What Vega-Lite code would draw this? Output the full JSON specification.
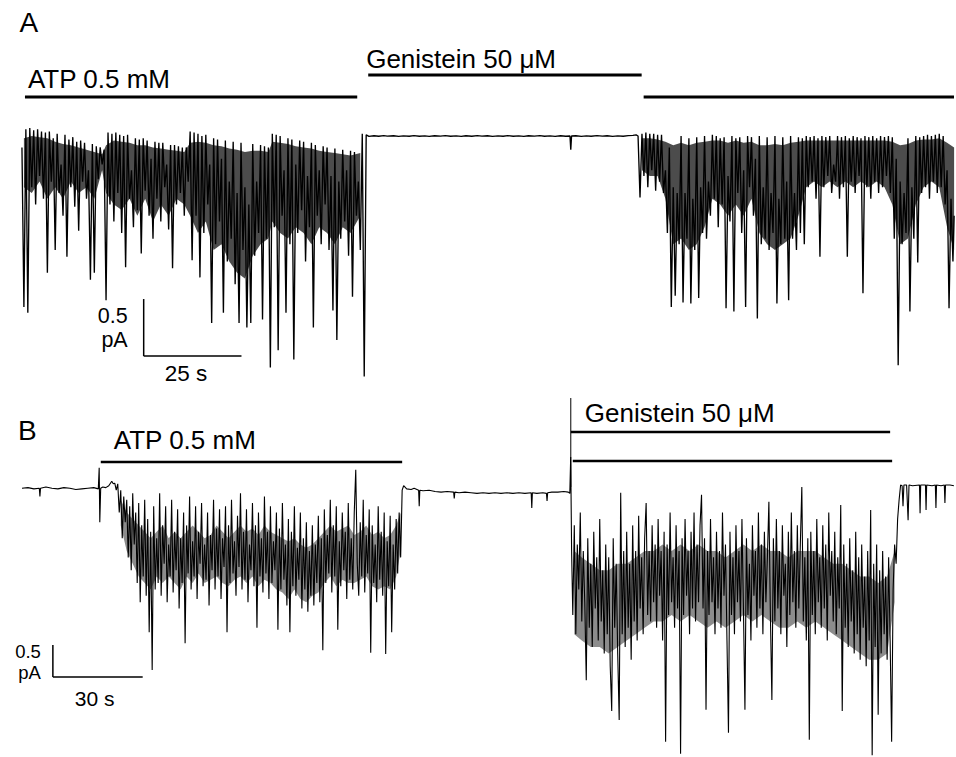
{
  "$schema": "https://vega.github.io/schema/vega-lite/v6.json",
  "width": 956,
  "height": 757,
  "autosize": {"type": "fit", "contains": "padding"},
  "padding": 0,
  "background": "white",
  "config": {"view": {"stroke": null}, "text": {"font": "Liberation Sans", "color": "black"}},
  "datasets": {
    "traceA": [
      {"t":0.0,"i":-0.10},{"t":0.5,"i":-1.50},{"t":1.0,"i":0.06},{"t":1.5,"i":-1.55},{"t":2.0,"i":0.07},{"t":2.5,"i":-0.45},{"t":3.0,"i":0.05},{"t":3.5,"i":-0.60},{"t":4.0,"i":0.06},{"t":4.5,"i":-0.35},
      {"t":5.0,"i":0.04},{"t":5.5,"i":-0.55},{"t":6.0,"i":0.03},{"t":6.5,"i":-1.20},{"t":7.0,"i":0.04},{"t":7.5,"i":-0.40},{"t":8.0,"i":-0.02},{"t":8.5,"i":-1.00},{"t":9.0,"i":0.02},{"t":9.5,"i":-0.50},
      {"t":10.0,"i":-0.25},{"t":10.5,"i":-0.70},{"t":11.0,"i":0.01},{"t":11.5,"i":-1.06},{"t":12.0,"i":-0.03},{"t":12.5,"i":-0.45},{"t":13.0,"i":-0.01},{"t":13.5,"i":-0.62},{"t":14.0,"i":-0.05},{"t":14.5,"i":-0.83},
      {"t":15.0,"i":-0.04},{"t":15.5,"i":-0.40},{"t":16.0,"i":-0.06},{"t":16.5,"i":-0.55},{"t":17.0,"i":-0.30},{"t":17.5,"i":-1.26},{"t":18.0,"i":-0.07},{"t":18.5,"i":-1.20},{"t":19.0,"i":-0.09},{"t":19.5,"i":-0.38},
      {"t":20.0,"i":-0.10},{"t":20.5,"i":-0.25},{"t":21.0,"i":-0.12},{"t":21.5,"i":-1.44},
      {"t":22.0,"i":0.03},{"t":22.5,"i":-0.60},{"t":23.0,"i":0.02},{"t":23.5,"i":-0.75},{"t":24.0,"i":0.03},{"t":24.5,"i":-0.50},{"t":25.0,"i":0.01},{"t":25.5,"i":-0.85},{"t":26.0,"i":0.00},{"t":26.5,"i":-1.15},
      {"t":27.0,"i":0.01},{"t":27.5,"i":-0.55},{"t":28.0,"i":-0.30},{"t":28.5,"i":-0.80},{"t":29.0,"i":-0.02},{"t":29.5,"i":-0.65},{"t":30.0,"i":-0.03},{"t":30.5,"i":-1.03},{"t":31.0,"i":-0.02},{"t":31.5,"i":-0.48},
      {"t":32.0,"i":-0.04},{"t":32.5,"i":-0.70},{"t":33.0,"i":-0.20},{"t":33.5,"i":-0.90},{"t":34.0,"i":-0.05},{"t":34.5,"i":-0.55},{"t":35.0,"i":-0.06},{"t":35.5,"i":-0.75},{"t":36.0,"i":-0.06},{"t":36.5,"i":-0.45},
      {"t":37.0,"i":-0.25},{"t":37.5,"i":-0.82},{"t":38.0,"i":-0.08},{"t":38.5,"i":-1.16},{"t":39.0,"i":-0.08},{"t":39.5,"i":-0.60},{"t":40.0,"i":-0.09},{"t":40.5,"i":-0.50},{"t":41.0,"i":-0.10},{"t":41.5,"i":-0.70},
      {"t":42.0,"i":-0.10},{"t":42.5,"i":-0.40},
      {"t":43.0,"i":0.04},{"t":43.5,"i":-1.09},{"t":44.0,"i":0.03},{"t":44.5,"i":-0.70},{"t":45.0,"i":0.02},{"t":45.5,"i":-1.24},{"t":46.0,"i":0.00},{"t":46.5,"i":-0.85},{"t":47.0,"i":0.01},{"t":47.5,"i":-0.60},
      {"t":48.0,"i":-0.25},{"t":48.5,"i":-1.64},{"t":49.0,"i":-0.02},{"t":49.5,"i":-0.95},{"t":50.0,"i":-0.03},{"t":50.5,"i":-0.75},{"t":51.0,"i":-0.20},{"t":51.5,"i":-1.55},{"t":52.0,"i":-0.04},{"t":52.5,"i":-1.10},
      {"t":53.0,"i":-0.40},{"t":53.5,"i":-0.90},{"t":54.0,"i":-0.05},{"t":54.5,"i":-1.30},{"t":55.0,"i":-0.50},{"t":55.5,"i":-1.64},{"t":56.0,"i":-0.06},{"t":56.5,"i":-1.00},{"t":57.0,"i":-0.45},{"t":57.5,"i":-1.68},
      {"t":58.0,"i":-0.60},{"t":58.5,"i":-1.64},{"t":59.0,"i":-0.07},{"t":59.5,"i":-1.05},{"t":60.0,"i":-0.40},{"t":60.5,"i":-0.85},{"t":61.0,"i":-0.08},{"t":61.5,"i":-1.61},{"t":62.0,"i":-0.09},{"t":62.5,"i":-0.90},
      {"t":63.0,"i":-0.10},{"t":63.5,"i":-2.03},
      {"t":64.0,"i":0.02},{"t":64.5,"i":-0.80},{"t":65.0,"i":0.01},{"t":65.5,"i":-1.88},{"t":66.0,"i":0.00},{"t":66.5,"i":-0.70},{"t":67.0,"i":-0.30},{"t":67.5,"i":-1.55},{"t":68.0,"i":-0.02},{"t":68.5,"i":-0.95},
      {"t":69.0,"i":-0.03},{"t":69.5,"i":-1.96},{"t":70.0,"i":-0.25},{"t":70.5,"i":-0.85},{"t":71.0,"i":-0.04},{"t":71.5,"i":-0.65},{"t":72.0,"i":-0.05},{"t":72.5,"i":-1.10},{"t":73.0,"i":-0.35},{"t":73.5,"i":-0.80},
      {"t":74.0,"i":-0.06},{"t":74.5,"i":-1.68},{"t":75.0,"i":-0.08},{"t":75.5,"i":-0.70},{"t":76.0,"i":-0.30},{"t":76.5,"i":-0.95},{"t":77.0,"i":-0.09},{"t":77.5,"i":-0.60},{"t":78.0,"i":-0.10},{"t":78.5,"i":-1.00},
      {"t":79.0,"i":-0.35},{"t":79.5,"i":-1.53},{"t":80.0,"i":-0.11},{"t":80.5,"i":-1.79},{"t":81.0,"i":-0.40},{"t":81.5,"i":-0.90},{"t":82.0,"i":-0.12},{"t":82.5,"i":-0.75},{"t":83.0,"i":-0.30},{"t":83.5,"i":-1.05},
      {"t":84.0,"i":-0.13},{"t":84.5,"i":-1.41},{"t":85.0,"i":-0.14},{"t":85.5,"i":-0.70},{"t":86.0,"i":-0.40},{"t":86.5,"i":-1.00},{"t":87.0,"i":0.02},{"t":87.5,"i":-2.11},{"t":88.0,"i":0.01},
      {"t":88.7,"i":-0.003},{"t":90,"i":0.002},{"t":91.2,"i":-0.002},{"t":92.5,"i":0.003},{"t":93.4,"i":-0.001},{"t":95,"i":0.002},{"t":96.3,"i":-0.003},{"t":97.5,"i":0.001},{"t":99,"i":-0.002},{"t":100.2,"i":0.003},
      {"t":101.6,"i":-0.002},{"t":103,"i":0.001},{"t":104.1,"i":-0.003},{"t":105.5,"i":0.002},{"t":107,"i":-0.001},{"t":108.2,"i":0.003},{"t":109.6,"i":-0.002},{"t":111,"i":0.001},{"t":112.3,"i":-0.003},{"t":113.5,"i":0.002},
      {"t":115,"i":-0.002},{"t":116.4,"i":0.003},{"t":117.6,"i":-0.001},{"t":119,"i":0.002},{"t":120.3,"i":-0.003},{"t":121.7,"i":0.001},{"t":123,"i":-0.002},{"t":124.2,"i":0.003},{"t":125.6,"i":-0.002},{"t":127,"i":0.001},
      {"t":128.3,"i":-0.003},{"t":129.5,"i":0.002},{"t":131,"i":-0.001},{"t":132.4,"i":0.003},{"t":133.6,"i":-0.002},{"t":135,"i":0.001},{"t":136.3,"i":-0.003},{"t":137.7,"i":0.002},{"t":139,"i":-0.002},{"t":140.1,"i":0.0},
      {"t":140.3,"i":-0.12},{"t":140.5,"i":0.0},{"t":141.6,"i":0.002},{"t":143,"i":-0.003},{"t":144.3,"i":0.001},{"t":145.5,"i":-0.002},{"t":147,"i":0.003},{"t":148.4,"i":-0.001},{"t":149.6,"i":0.002},{"t":151,"i":-0.003},
      {"t":152.3,"i":0.001},{"t":153.7,"i":-0.002},{"t":155,"i":0.003},{"t":156.2,"i":0.005},{"t":157,"i":0.01},
      {"t":157.5,"i":0.0},{"t":158.0,"i":-0.54},{"t":158.5,"i":0.02},{"t":159.0,"i":-0.35},{"t":159.5,"i":0.03},{"t":160.0,"i":-0.45},{"t":160.5,"i":0.02},{"t":161.0,"i":-0.30},{"t":161.5,"i":0.02},{"t":162.0,"i":-0.48},
      {"t":162.5,"i":0.01},{"t":163.0,"i":-0.40},{"t":163.5,"i":0.01},{"t":164.0,"i":-0.50},{"t":164.5,"i":-0.30},{"t":165.0,"i":-0.85},{"t":165.5,"i":-0.10},{"t":166.0,"i":-1.50},{"t":166.5,"i":-0.45},{"t":167.0,"i":-1.40},
      {"t":167.5,"i":-0.50},{"t":168.0,"i":-0.95},{"t":168.5,"i":0.00},{"t":169.0,"i":-1.46},{"t":169.5,"i":-0.50},{"t":170.0,"i":-0.90},{"t":170.5,"i":-0.02},{"t":171.0,"i":-1.47},{"t":171.5,"i":-0.55},{"t":172.0,"i":-1.00},
      {"t":172.5,"i":-0.01},{"t":173.0,"i":-1.42},{"t":173.5,"i":-0.45},{"t":174.0,"i":-0.85},{"t":174.5,"i":0.00},{"t":175.0,"i":-0.90},{"t":175.5,"i":-0.40},{"t":176.0,"i":-0.70},{"t":176.5,"i":0.01},{"t":177.0,"i":-0.55},
      {"t":177.5,"i":0.00},{"t":178.0,"i":-0.80},{"t":178.5,"i":-0.02},{"t":179.0,"i":-0.60},{"t":179.5,"i":-0.01},{"t":180.0,"i":-1.51},{"t":180.5,"i":-0.35},{"t":181.0,"i":-0.75},{"t":181.5,"i":0.00},{"t":182.0,"i":-1.54},
      {"t":182.5,"i":-0.02},{"t":183.0,"i":-0.50},{"t":183.5,"i":-0.01},{"t":184.0,"i":-0.85},{"t":184.5,"i":-0.30},{"t":185.0,"i":-1.50},{"t":185.5,"i":0.00},{"t":186.0,"i":-0.45},{"t":186.5,"i":-0.01},{"t":187.0,"i":-0.70},
      {"t":187.5,"i":-0.20},{"t":188.0,"i":-1.60},{"t":188.5,"i":0.00},{"t":189.0,"i":-0.95},{"t":189.5,"i":-0.45},{"t":190.0,"i":-0.90},{"t":190.5,"i":-0.01},{"t":191.0,"i":-1.00},{"t":191.5,"i":-0.50},{"t":192.0,"i":-0.85},
      {"t":192.5,"i":0.00},{"t":193.0,"i":-1.47},{"t":193.5,"i":-0.55},{"t":194.0,"i":-0.95},{"t":194.5,"i":-0.01},{"t":195.0,"i":-0.90},{"t":195.5,"i":-0.40},{"t":196.0,"i":-1.44},{"t":196.5,"i":0.00},{"t":197.0,"i":-0.90},
      {"t":197.5,"i":-0.50},{"t":198.0,"i":-1.00},{"t":198.5,"i":-0.01},{"t":199.0,"i":-0.85},{"t":199.5,"i":-0.02},{"t":200.0,"i":-0.95},{"t":200.5,"i":0.00},{"t":201.0,"i":-0.45},{"t":201.5,"i":-0.01},{"t":202.0,"i":-0.40},
      {"t":202.5,"i":0.00},{"t":203.0,"i":-0.55},{"t":203.5,"i":-0.02},{"t":204.0,"i":-1.06},{"t":204.5,"i":0.00},{"t":205.0,"i":-0.45},{"t":205.5,"i":-0.01},{"t":206.0,"i":-0.35},{"t":206.5,"i":0.00},{"t":207.0,"i":-0.50},
      {"t":207.5,"i":-0.25},{"t":208.0,"i":-0.40},{"t":208.5,"i":0.00},{"t":209.0,"i":-0.55},{"t":209.5,"i":-0.01},{"t":210.0,"i":-0.45},{"t":210.5,"i":0.00},{"t":211.0,"i":-1.06},{"t":211.5,"i":-0.02},{"t":212.0,"i":-0.40},
      {"t":212.5,"i":0.00},{"t":213.0,"i":-0.50},{"t":213.5,"i":-0.01},{"t":214.0,"i":-0.35},{"t":214.5,"i":-0.02},{"t":215.0,"i":-1.38},{"t":215.5,"i":0.00},{"t":216.0,"i":-0.45},{"t":216.5,"i":-0.01},{"t":217.0,"i":-0.55},
      {"t":217.5,"i":0.00},{"t":218.0,"i":-0.40},{"t":218.5,"i":-0.02},{"t":219.0,"i":-0.50},{"t":219.5,"i":0.00},{"t":220.0,"i":-0.45},{"t":220.5,"i":-0.01},{"t":221.0,"i":-0.35},{"t":221.5,"i":0.00},{"t":222.0,"i":-0.50},
      {"t":222.5,"i":-0.01},{"t":223.0,"i":-0.90},{"t":223.5,"i":-0.20},{"t":224.0,"i":-2.01},{"t":224.5,"i":-0.40},{"t":225.0,"i":-0.95},{"t":225.5,"i":-0.50},{"t":226.0,"i":-0.85},{"t":226.5,"i":-0.02},{"t":227.0,"i":-1.54},
      {"t":227.5,"i":-0.45},{"t":228.0,"i":-0.90},{"t":228.5,"i":0.00},{"t":229.0,"i":-1.11},{"t":229.5,"i":-0.01},{"t":230.0,"i":-0.50},{"t":230.5,"i":0.00},{"t":231.0,"i":-0.45},{"t":231.5,"i":0.01},{"t":232.0,"i":-0.55},
      {"t":232.5,"i":0.00},{"t":233.0,"i":-0.40},{"t":233.5,"i":0.01},{"t":234.0,"i":-0.50},{"t":234.5,"i":0.02},{"t":235.0,"i":-0.45},{"t":235.5,"i":0.00},{"t":236.0,"i":-0.60},{"t":236.5,"i":-0.30},{"t":237.0,"i":-1.51},
      {"t":237.5,"i":-0.55},{"t":238.0,"i":-1.10},{"t":238.3,"i":-0.70}
    ],
    "bandA": [
      {"seg":"atp","t":0.5,"i":-0.02,"i2":-0.45},{"seg":"atp","t":2.5,"i":0.0,"i2":-0.50},{"seg":"atp","t":4.5,"i":-0.01,"i2":-0.40},{"seg":"atp","t":6.5,"i":-0.02,"i2":-0.55},{"seg":"atp","t":8.5,"i":-0.05,"i2":-0.45},
      {"seg":"atp","t":10.5,"i":-0.07,"i2":-0.55},{"seg":"atp","t":12.5,"i":-0.08,"i2":-0.40},{"seg":"atp","t":14.5,"i":-0.10,"i2":-0.50},{"seg":"atp","t":16.5,"i":-0.12,"i2":-0.45},{"seg":"atp","t":18.5,"i":-0.14,"i2":-0.55},
      {"seg":"atp","t":20.5,"i":-0.16,"i2":-0.30},{"seg":"atp","t":21.5,"i":-0.08,"i2":-0.50},{"seg":"atp","t":23.5,"i":-0.04,"i2":-0.60},{"seg":"atp","t":25.5,"i":-0.05,"i2":-0.65},{"seg":"atp","t":27.5,"i":-0.06,"i2":-0.55},
      {"seg":"atp","t":29.5,"i":-0.08,"i2":-0.70},{"seg":"atp","t":31.5,"i":-0.08,"i2":-0.55},{"seg":"atp","t":33.5,"i":-0.10,"i2":-0.75},{"seg":"atp","t":35.5,"i":-0.11,"i2":-0.60},{"seg":"atp","t":37.5,"i":-0.12,"i2":-0.70},
      {"seg":"atp","t":39.5,"i":-0.13,"i2":-0.55},{"seg":"atp","t":41.5,"i":-0.14,"i2":-0.60},{"seg":"atp","t":43.0,"i":-0.06,"i2":-0.70},{"seg":"atp","t":45.0,"i":-0.05,"i2":-0.85},{"seg":"atp","t":47.0,"i":-0.06,"i2":-0.75},
      {"seg":"atp","t":49.0,"i":-0.08,"i2":-1.00},{"seg":"atp","t":51.0,"i":-0.09,"i2":-0.95},{"seg":"atp","t":53.0,"i":-0.11,"i2":-1.10},{"seg":"atp","t":55.0,"i":-0.12,"i2":-1.20},{"seg":"atp","t":57.0,"i":-0.14,"i2":-1.25},
      {"seg":"atp","t":59.0,"i":-0.13,"i2":-1.05},{"seg":"atp","t":61.0,"i":-0.13,"i2":-0.95},{"seg":"atp","t":63.0,"i":-0.14,"i2":-0.90},{"seg":"atp","t":64.0,"i":-0.05,"i2":-0.75},{"seg":"atp","t":66.0,"i":-0.06,"i2":-0.85},
      {"seg":"atp","t":68.0,"i":-0.07,"i2":-0.90},{"seg":"atp","t":70.0,"i":-0.09,"i2":-0.80},{"seg":"atp","t":72.0,"i":-0.10,"i2":-0.85},{"seg":"atp","t":74.0,"i":-0.11,"i2":-0.95},{"seg":"atp","t":76.0,"i":-0.13,"i2":-0.80},
      {"seg":"atp","t":78.0,"i":-0.14,"i2":-0.85},{"seg":"atp","t":80.0,"i":-0.15,"i2":-0.95},{"seg":"atp","t":82.0,"i":-0.16,"i2":-0.80},{"seg":"atp","t":84.0,"i":-0.17,"i2":-0.85},{"seg":"atp","t":86.5,"i":-0.15,"i2":-0.70},
      {"seg":"rec","t":158.5,"i":-0.02,"i2":-0.30},{"seg":"rec","t":160.5,"i":-0.02,"i2":-0.35},{"seg":"rec","t":162.5,"i":-0.03,"i2":-0.35},{"seg":"rec","t":164.5,"i":-0.05,"i2":-0.55},{"seg":"rec","t":166.5,"i":-0.08,"i2":-0.95},
      {"seg":"rec","t":168.5,"i":-0.06,"i2":-0.90},{"seg":"rec","t":170.5,"i":-0.08,"i2":-1.00},{"seg":"rec","t":172.5,"i":-0.06,"i2":-0.95},{"seg":"rec","t":174.5,"i":-0.05,"i2":-0.80},{"seg":"rec","t":176.5,"i":-0.04,"i2":-0.55},
      {"seg":"rec","t":178.5,"i":-0.04,"i2":-0.60},{"seg":"rec","t":180.5,"i":-0.06,"i2":-0.70},{"seg":"rec","t":182.5,"i":-0.04,"i2":-0.60},{"seg":"rec","t":184.5,"i":-0.06,"i2":-0.70},{"seg":"rec","t":186.5,"i":-0.05,"i2":-0.55},
      {"seg":"rec","t":188.5,"i":-0.08,"i2":-0.85},{"seg":"rec","t":190.5,"i":-0.08,"i2":-0.95},{"seg":"rec","t":192.5,"i":-0.07,"i2":-1.00},{"seg":"rec","t":194.5,"i":-0.08,"i2":-0.95},{"seg":"rec","t":196.5,"i":-0.06,"i2":-0.90},
      {"seg":"rec","t":198.5,"i":-0.05,"i2":-0.70},{"seg":"rec","t":200.5,"i":-0.04,"i2":-0.45},{"seg":"rec","t":202.5,"i":-0.04,"i2":-0.40},{"seg":"rec","t":204.5,"i":-0.04,"i2":-0.45},{"seg":"rec","t":206.5,"i":-0.04,"i2":-0.40},
      {"seg":"rec","t":208.5,"i":-0.04,"i2":-0.45},{"seg":"rec","t":210.5,"i":-0.04,"i2":-0.40},{"seg":"rec","t":212.5,"i":-0.04,"i2":-0.45},{"seg":"rec","t":214.5,"i":-0.04,"i2":-0.40},{"seg":"rec","t":216.5,"i":-0.04,"i2":-0.45},
      {"seg":"rec","t":218.5,"i":-0.04,"i2":-0.40},{"seg":"rec","t":220.5,"i":-0.04,"i2":-0.45},{"seg":"rec","t":222.5,"i":-0.05,"i2":-0.60},{"seg":"rec","t":224.5,"i":-0.08,"i2":-0.95},{"seg":"rec","t":226.5,"i":-0.07,"i2":-0.90},
      {"seg":"rec","t":228.5,"i":-0.04,"i2":-0.60},{"seg":"rec","t":230.5,"i":-0.03,"i2":-0.45},{"seg":"rec","t":232.5,"i":-0.03,"i2":-0.40},{"seg":"rec","t":234.5,"i":-0.02,"i2":-0.45},{"seg":"rec","t":236.5,"i":-0.06,"i2":-0.80},
      {"seg":"rec","t":238.3,"i":-0.10,"i2":-1.00}
    ],
    "traceB": [
      {"t":0.0,"i":-0.02},{"t":2,"i":-0.01},{"t":4,"i":-0.03},{"t":5.8,"i":-0.02},{"t":6.0,"i":-0.15},{"t":6.2,"i":-0.02},{"t":8,"i":0.0},{"t":10,"i":-0.02},{"t":12,"i":-0.03},{"t":14,"i":-0.01},
      {"t":16,"i":-0.02},{"t":18,"i":-0.04},{"t":20,"i":-0.03},{"t":22,"i":-0.02},{"t":24,"i":-0.01},{"t":25.5,"i":-0.03},{"t":25.8,"i":0.30},{"t":26.0,"i":-0.55},{"t":26.3,"i":-0.02},{"t":27,"i":0.0},
      {"t":28,"i":-0.01},{"t":29,"i":0.02},{"t":30,"i":0.09},{"t":30.5,"i":0.05},{"t":31.0,"i":0.06},{"t":31.5,"i":-0.05},
      {"t":32.0,"i":0.05},{"t":32.5,"i":-0.40},{"t":33.0,"i":-0.05},{"t":33.5,"i":-0.80},{"t":34.0,"i":-0.15},{"t":34.5,"i":-0.55},{"t":35.0,"i":-0.20},{"t":35.5,"i":-1.10},{"t":36.0,"i":-0.30},{"t":36.5,"i":-1.30},
      {"t":37.0,"i":-0.10},{"t":37.5,"i":-0.90},{"t":38.0,"i":-0.40},{"t":38.5,"i":-1.50},{"t":39.0,"i":-0.25},{"t":39.5,"i":-1.80},{"t":40.0,"i":-0.60},{"t":40.5,"i":-1.40},{"t":41.0,"i":-0.20},{"t":41.5,"i":-1.70},
      {"t":42.0,"i":-0.50},{"t":42.5,"i":-2.27},{"t":43.0,"i":-0.70},{"t":43.5,"i":-2.86},{"t":44.0,"i":-0.30},{"t":44.5,"i":-1.60},{"t":45.0,"i":-0.80},{"t":45.5,"i":-1.50},{"t":46.0,"i":-0.10},{"t":46.5,"i":-1.70},
      {"t":47.0,"i":-0.60},{"t":47.5,"i":-1.20},{"t":48.0,"i":-0.30},{"t":48.5,"i":-1.80},{"t":49.0,"i":-0.90},{"t":49.5,"i":-1.40},{"t":50.0,"i":-0.20},{"t":50.5,"i":-1.65},{"t":51.0,"i":-0.70},{"t":51.5,"i":-1.30},
      {"t":52.0,"i":-0.35},{"t":52.5,"i":-1.90},{"t":53.0,"i":-0.80},{"t":53.5,"i":-1.50},{"t":54.0,"i":-0.40},{"t":54.5,"i":-2.44},{"t":55.0,"i":-0.60},{"t":55.5,"i":-1.35},{"t":56.0,"i":-0.15},{"t":56.5,"i":-1.60},
      {"t":57.0,"i":-0.85},{"t":57.5,"i":-1.40},{"t":58.0,"i":-0.30},{"t":58.5,"i":-1.75},{"t":59.0,"i":-0.70},{"t":59.5,"i":-1.20},{"t":60.0,"i":-0.25},{"t":60.5,"i":-1.55},{"t":61.0,"i":-0.90},{"t":61.5,"i":-1.45},
      {"t":62.0,"i":-0.40},{"t":62.5,"i":-1.85},{"t":63.0,"i":-0.75},{"t":63.5,"i":-1.30},{"t":64.0,"i":-0.20},{"t":64.5,"i":-1.60},{"t":65.0,"i":-0.65},{"t":65.5,"i":-1.40},{"t":66.0,"i":-0.35},{"t":66.5,"i":-1.75},
      {"t":67.0,"i":-0.80},{"t":67.5,"i":-1.25},{"t":68.0,"i":-0.30},{"t":68.5,"i":-2.27},{"t":69.0,"i":-0.60},{"t":69.5,"i":-1.50},{"t":70.0,"i":-0.20},{"t":70.5,"i":-1.35},{"t":71.0,"i":-0.85},{"t":71.5,"i":-1.70},
      {"t":72.0,"i":-0.45},{"t":72.5,"i":-1.25},{"t":73.0,"i":-0.10},{"t":73.5,"i":-1.60},{"t":74.0,"i":-0.70},{"t":74.5,"i":-1.45},{"t":75.0,"i":-0.35},{"t":75.5,"i":-1.80},{"t":76.0,"i":-0.90},{"t":76.5,"i":-1.30},
      {"t":77.0,"i":-0.25},{"t":77.5,"i":-1.55},{"t":78.0,"i":-0.60},{"t":78.5,"i":-2.20},{"t":79.0,"i":-0.40},{"t":79.5,"i":-1.40},{"t":80.0,"i":-0.80},{"t":80.5,"i":-1.65},{"t":81.0,"i":-0.15},{"t":81.5,"i":-1.35},
      {"t":82.0,"i":-0.70},{"t":82.5,"i":-1.75},{"t":83.0,"i":-0.30},{"t":83.5,"i":-1.50},{"t":84.0,"i":-0.85},{"t":84.5,"i":-1.30},{"t":85.0,"i":-0.40},{"t":85.5,"i":-2.23},{"t":86.0,"i":-0.65},{"t":86.5,"i":-1.60},
      {"t":87.0,"i":-0.25},{"t":87.5,"i":-1.45},{"t":88.0,"i":-0.90},{"t":88.5,"i":-1.85},{"t":89.0,"i":-0.50},{"t":89.5,"i":-2.27},{"t":90.0,"i":-0.70},{"t":90.5,"i":-1.55},{"t":91.0,"i":-0.30},{"t":91.5,"i":-1.70},
      {"t":92.0,"i":-0.95},{"t":92.5,"i":-1.45},{"t":93.0,"i":-0.40},{"t":93.5,"i":-1.90},{"t":94.0,"i":-0.80},{"t":94.5,"i":-1.60},{"t":95.0,"i":-0.55},{"t":95.5,"i":-1.95},{"t":96.0,"i":-1.00},{"t":96.5,"i":-1.70},
      {"t":97.0,"i":-0.60},{"t":97.5,"i":-1.85},{"t":98.0,"i":-0.90},{"t":98.5,"i":-1.50},{"t":99.0,"i":-0.45},{"t":99.5,"i":-1.80},{"t":100.0,"i":-0.80},{"t":100.5,"i":-2.55},{"t":101.0,"i":-0.35},{"t":101.5,"i":-1.50},
      {"t":102.0,"i":-0.75},{"t":102.5,"i":-1.35},{"t":103.0,"i":-0.20},{"t":103.5,"i":-1.65},{"t":104.0,"i":-0.60},{"t":104.5,"i":-1.40},{"t":105.0,"i":-0.30},{"t":105.5,"i":-2.23},{"t":106.0,"i":-0.85},{"t":106.5,"i":-1.55},
      {"t":107.0,"i":-0.40},{"t":107.5,"i":-1.30},{"t":108.0,"i":-0.70},{"t":108.5,"i":-1.75},{"t":109.0,"i":-0.25},{"t":109.5,"i":-1.45},{"t":110.0,"i":-0.80},{"t":110.5,"i":-1.60},{"t":111.0,"i":-0.40},{"t":111.5,"i":0.27},
      {"t":112.0,"i":-1.20},{"t":112.5,"i":-1.70},{"t":113.0,"i":-0.55},{"t":113.5,"i":-1.40},{"t":114.0,"i":-0.20},{"t":114.5,"i":-1.65},{"t":115.0,"i":-0.75},{"t":115.5,"i":-1.35},{"t":116.0,"i":-0.35},{"t":116.5,"i":-2.59},
      {"t":117.0,"i":-0.60},{"t":117.5,"i":-1.50},{"t":118.0,"i":-0.90},{"t":118.5,"i":-1.80},{"t":119.0,"i":-0.30},{"t":119.5,"i":-1.45},{"t":120.0,"i":-0.70},{"t":120.5,"i":-1.70},{"t":121.0,"i":-0.40},{"t":121.5,"i":-2.61},
      {"t":122.0,"i":-0.85},{"t":122.5,"i":-1.55},{"t":123.0,"i":-0.45},{"t":123.5,"i":-2.27},{"t":124.0,"i":-0.90},{"t":124.5,"i":-1.60},{"t":125.0,"i":-0.50},{"t":125.5,"i":-1.35},{"t":126.0,"i":-0.40},{"t":126.5,"i":-1.10},
      {"t":127.0,"i":-0.05},{"t":127.5,"i":0.02},
      {"t":128.5,"i":-0.03},{"t":130,"i":-0.04},{"t":131,"i":-0.02},{"t":132.5,"i":-0.05},{"t":132.7,"i":-0.30},{"t":132.9,"i":-0.05},{"t":134,"i":-0.06},{"t":136,"i":-0.05},{"t":138,"i":-0.07},{"t":140,"i":-0.08},
      {"t":142,"i":-0.07},{"t":144.2,"i":-0.08},{"t":144.4,"i":-0.18},{"t":144.6,"i":-0.08},{"t":146,"i":-0.09},{"t":148,"i":-0.08},{"t":150,"i":-0.09},{"t":152,"i":-0.10},{"t":154,"i":-0.09},{"t":156,"i":-0.10},
      {"t":158,"i":-0.09},{"t":160,"i":-0.10},{"t":162,"i":-0.09},{"t":164,"i":-0.10},{"t":166,"i":-0.09},{"t":168,"i":-0.10},{"t":170.1,"i":-0.09},{"t":170.3,"i":-0.33},{"t":170.5,"i":-0.09},{"t":172,"i":-0.10},
      {"t":174,"i":-0.09},{"t":175.2,"i":-0.10},{"t":175.4,"i":-0.22},{"t":175.6,"i":-0.09},{"t":177,"i":-0.08},{"t":179,"i":-0.08},{"t":181,"i":-0.07},{"t":182.5,"i":-0.08},{"t":183.0,"i":-0.10},{"t":183.3,"i":0.47},
      {"t":183.6,"i":-1.00},
      {"t":184.0,"i":-2.00},{"t":184.5,"i":-0.60},{"t":185.0,"i":-2.30},{"t":185.5,"i":-0.90},{"t":186.0,"i":-1.60},{"t":186.5,"i":-0.40},{"t":187.0,"i":-2.10},{"t":187.5,"i":-1.00},{"t":188.0,"i":-1.80},{"t":188.5,"i":-3.02},
      {"t":189.0,"i":-0.80},{"t":189.5,"i":-2.20},{"t":190.0,"i":-1.20},{"t":190.5,"i":-2.50},{"t":191.0,"i":-0.70},{"t":191.5,"i":-1.90},{"t":192.0,"i":-1.10},{"t":192.5,"i":-2.40},{"t":193.0,"i":-0.50},{"t":193.5,"i":-2.10},
      {"t":194.0,"i":-1.30},{"t":194.5,"i":-2.60},{"t":195.0,"i":-0.90},{"t":195.5,"i":-2.30},{"t":196.0,"i":-1.10},{"t":196.5,"i":-2.80},{"t":197.0,"i":-3.50},{"t":197.5,"i":-0.80},{"t":198.0,"i":-2.20},{"t":198.5,"i":-1.20},
      {"t":199.0,"i":-2.60},{"t":199.5,"i":-3.64},{"t":200.0,"i":-0.09},{"t":200.5,"i":-2.30},{"t":201.0,"i":-1.00},{"t":201.5,"i":-2.50},{"t":202.0,"i":-0.70},{"t":202.5,"i":-2.20},{"t":203.0,"i":-1.20},{"t":203.5,"i":-2.70},
      {"t":204.0,"i":-0.60},{"t":204.5,"i":-2.10},{"t":205.0,"i":-1.00},{"t":205.5,"i":-2.40},{"t":206.0,"i":-0.45},{"t":206.5,"i":-1.90},{"t":207.0,"i":-1.10},{"t":207.5,"i":-2.30},{"t":208.0,"i":-0.80},{"t":208.5,"i":-0.25},
      {"t":209.0,"i":-2.00},{"t":209.5,"i":-1.00},{"t":210.0,"i":-2.10},{"t":210.5,"i":-0.60},{"t":211.0,"i":-1.80},{"t":211.5,"i":-0.90},{"t":212.0,"i":-2.20},{"t":212.5,"i":-0.50},{"t":213.0,"i":-1.70},{"t":213.5,"i":-1.00},
      {"t":214.0,"i":-2.40},{"t":214.5,"i":-0.70},{"t":215.0,"i":-3.98},{"t":215.5,"i":-0.90},{"t":216.0,"i":-2.00},{"t":216.5,"i":-0.40},{"t":217.0,"i":-1.80},{"t":217.5,"i":-1.10},{"t":218.0,"i":-2.20},{"t":218.5,"i":-0.60},
      {"t":219.0,"i":-1.90},{"t":219.5,"i":-1.00},{"t":220.0,"i":-4.17},{"t":220.5,"i":-0.80},{"t":221.0,"i":-2.00},{"t":221.5,"i":-0.50},{"t":222.0,"i":-1.70},{"t":222.5,"i":-1.00},{"t":223.0,"i":-2.30},{"t":223.5,"i":-0.70},
      {"t":224.0,"i":-1.90},{"t":224.5,"i":-0.40},{"t":225.0,"i":-2.10},{"t":225.5,"i":-0.90},{"t":226.0,"i":-1.80},{"t":226.5,"i":-0.60},{"t":227.0,"i":-0.12},{"t":227.5,"i":-1.90},{"t":228.0,"i":-0.80},{"t":228.5,"i":-3.48},
      {"t":229.0,"i":-1.00},{"t":229.5,"i":-2.00},{"t":230.0,"i":-0.50},{"t":230.5,"i":-1.80},{"t":231.0,"i":-1.10},{"t":231.5,"i":-2.30},{"t":232.0,"i":-0.70},{"t":232.5,"i":-1.90},{"t":233.0,"i":-1.00},{"t":233.5,"i":-2.20},
      {"t":234.0,"i":-0.40},{"t":234.5,"i":-1.70},{"t":235.0,"i":-0.90},{"t":235.5,"i":-2.40},{"t":236.0,"i":-3.84},{"t":236.5,"i":-0.70},{"t":237.0,"i":-2.00},{"t":237.5,"i":-1.10},{"t":238.0,"i":-2.30},{"t":238.5,"i":-0.60},
      {"t":239.0,"i":-1.80},{"t":239.5,"i":-1.00},{"t":240.0,"i":-2.10},{"t":240.5,"i":-0.50},{"t":241.0,"i":-1.90},{"t":241.5,"i":-3.48},{"t":242.0,"i":-0.80},{"t":242.5,"i":-2.00},{"t":243.0,"i":-1.20},{"t":243.5,"i":-2.40},
      {"t":244.0,"i":-0.60},{"t":244.5,"i":-1.70},{"t":245.0,"i":-1.00},{"t":245.5,"i":-2.20},{"t":246.0,"i":-0.40},{"t":246.5,"i":-1.90},{"t":247.0,"i":-0.90},{"t":247.5,"i":-2.30},{"t":248.0,"i":-0.70},{"t":248.5,"i":-1.80},
      {"t":249.0,"i":-1.10},{"t":249.5,"i":-0.23},{"t":250.0,"i":-2.00},{"t":250.5,"i":-3.33},{"t":251.0,"i":-0.80},{"t":251.5,"i":-2.10},{"t":252.0,"i":-0.50},{"t":252.5,"i":-1.90},{"t":253.0,"i":-1.00},{"t":253.5,"i":-2.30},
      {"t":254.0,"i":-0.60},{"t":254.5,"i":-1.70},{"t":255.0,"i":-1.20},{"t":255.5,"i":-2.50},{"t":256.0,"i":-0.70},{"t":256.5,"i":-2.00},{"t":257.0,"i":-0.40},{"t":257.5,"i":-1.80},{"t":258.0,"i":-1.00},{"t":258.5,"i":-2.20},
      {"t":259.0,"i":-0.60},{"t":259.5,"i":-1.90},{"t":260.0,"i":-0.90},{"t":260.5,"i":0.00},{"t":261.0,"i":-2.10},{"t":261.5,"i":-1.10},{"t":262.0,"i":-2.40},{"t":262.5,"i":-0.80},{"t":263.0,"i":-3.95},{"t":263.5,"i":-0.70},
      {"t":264.0,"i":-2.00},{"t":264.5,"i":-1.00},{"t":265.0,"i":-2.30},{"t":265.5,"i":-0.50},{"t":266.0,"i":-1.80},{"t":266.5,"i":-1.10},{"t":267.0,"i":-2.20},{"t":267.5,"i":-0.60},{"t":268.0,"i":-1.90},{"t":268.5,"i":-0.90},
      {"t":269.0,"i":-2.40},{"t":269.5,"i":-0.40},{"t":270.0,"i":-1.70},{"t":270.5,"i":-1.00},{"t":271.0,"i":-2.10},{"t":271.5,"i":-0.70},{"t":272.0,"i":-2.30},{"t":272.5,"i":-1.10},{"t":273.0,"i":-1.90},{"t":273.5,"i":-0.28},
      {"t":274.0,"i":-3.50},{"t":274.5,"i":-0.90},{"t":275.0,"i":-2.20},{"t":275.5,"i":-1.20},{"t":276.0,"i":-2.50},{"t":276.5,"i":-0.80},{"t":277.0,"i":-2.10},{"t":277.5,"i":-1.30},{"t":278.0,"i":-2.60},{"t":278.5,"i":-0.70},
      {"t":279.0,"i":-2.30},{"t":279.5,"i":-1.10},{"t":280.0,"i":-2.70},{"t":280.5,"i":-0.90},{"t":281.0,"i":-2.20},{"t":281.5,"i":-1.40},{"t":282.0,"i":-2.80},{"t":282.5,"i":-1.00},{"t":283.0,"i":-2.40},{"t":283.5,"i":-0.36},
      {"t":284.0,"i":-4.19},{"t":284.5,"i":-1.20},{"t":285.0,"i":-2.50},{"t":285.5,"i":-0.90},{"t":286.0,"i":-3.56},{"t":286.5,"i":-1.30},{"t":287.0,"i":-2.60},{"t":287.5,"i":-1.00},{"t":288.0,"i":-2.30},{"t":288.5,"i":-1.40},
      {"t":289.0,"i":-2.70},{"t":289.5,"i":-1.10},{"t":290.0,"i":-2.40},{"t":290.5,"i":-3.98},{"t":291.0,"i":-1.60},{"t":291.5,"i":-0.90},{"t":292.0,"i":-1.20},{"t":292.5,"i":-0.50},{"t":293.0,"i":-0.20},{"t":293.5,"i":0.03},
      {"t":294.0,"i":0.02},{"t":294.3,"i":-0.30},{"t":294.6,"i":0.03},
      {"t":295.5,"i":0.03},{"t":296.0,"i":-0.52},{"t":296.3,"i":0.03},{"t":297.5,"i":0.02},{"t":299.8,"i":0.03},{"t":300.0,"i":-0.41},{"t":300.2,"i":0.03},{"t":301.8,"i":0.03},{"t":302.0,"i":-0.36},{"t":302.2,"i":0.03},
      {"t":304,"i":0.02},{"t":305.1,"i":0.03},{"t":305.3,"i":-0.33},{"t":305.5,"i":0.03},{"t":307,"i":0.02},{"t":308.1,"i":0.03},{"t":308.3,"i":-0.25},{"t":308.5,"i":0.03},{"t":310,"i":0.03},{"t":311.3,"i":0.02}
    ],
    "bandB": [
      {"seg":"atp","t":33,"i":-0.2,"i2":-0.6},{"seg":"atp","t":35,"i":-0.4,"i2":-1.0},{"seg":"atp","t":37,"i":-0.5,"i2":-1.2},{"seg":"atp","t":39,"i":-0.6,"i2":-1.4},{"seg":"atp","t":41,"i":-0.7,"i2":-1.5},
      {"seg":"atp","t":43,"i":-0.8,"i2":-1.6},{"seg":"atp","t":45,"i":-0.7,"i2":-1.4},{"seg":"atp","t":47,"i":-0.6,"i2":-1.5},{"seg":"atp","t":49,"i":-0.8,"i2":-1.4},{"seg":"atp","t":51,"i":-0.7,"i2":-1.5},
      {"seg":"atp","t":53,"i":-0.8,"i2":-1.6},{"seg":"atp","t":55,"i":-0.7,"i2":-1.4},{"seg":"atp","t":57,"i":-0.6,"i2":-1.5},{"seg":"atp","t":59,"i":-0.7,"i2":-1.35},{"seg":"atp","t":61,"i":-0.8,"i2":-1.5},
      {"seg":"atp","t":63,"i":-0.75,"i2":-1.45},{"seg":"atp","t":65,"i":-0.6,"i2":-1.4},{"seg":"atp","t":67,"i":-0.7,"i2":-1.5},{"seg":"atp","t":69,"i":-0.8,"i2":-1.55},{"seg":"atp","t":71,"i":-0.7,"i2":-1.45},
      {"seg":"atp","t":73,"i":-0.6,"i2":-1.4},{"seg":"atp","t":75,"i":-0.7,"i2":-1.5},{"seg":"atp","t":77,"i":-0.65,"i2":-1.4},{"seg":"atp","t":79,"i":-0.75,"i2":-1.55},{"seg":"atp","t":81,"i":-0.6,"i2":-1.45},
      {"seg":"atp","t":83,"i":-0.7,"i2":-1.5},{"seg":"atp","t":85,"i":-0.75,"i2":-1.6},{"seg":"atp","t":87,"i":-0.8,"i2":-1.65},{"seg":"atp","t":89,"i":-0.85,"i2":-1.75},{"seg":"atp","t":91,"i":-0.8,"i2":-1.6},
      {"seg":"atp","t":93,"i":-0.9,"i2":-1.75},{"seg":"atp","t":95,"i":-0.95,"i2":-1.8},{"seg":"atp","t":97,"i":-0.9,"i2":-1.7},{"seg":"atp","t":99,"i":-0.8,"i2":-1.65},{"seg":"atp","t":101,"i":-0.7,"i2":-1.5},
      {"seg":"atp","t":103,"i":-0.6,"i2":-1.4},{"seg":"atp","t":105,"i":-0.7,"i2":-1.55},{"seg":"atp","t":107,"i":-0.65,"i2":-1.45},{"seg":"atp","t":109,"i":-0.6,"i2":-1.5},{"seg":"atp","t":111,"i":-0.75,"i2":-1.5},
      {"seg":"atp","t":113,"i":-0.7,"i2":-1.45},{"seg":"atp","t":115,"i":-0.6,"i2":-1.4},{"seg":"atp","t":117,"i":-0.75,"i2":-1.55},{"seg":"atp","t":119,"i":-0.7,"i2":-1.6},{"seg":"atp","t":121,"i":-0.8,"i2":-1.55},
      {"seg":"atp","t":123,"i":-0.75,"i2":-1.6},{"seg":"atp","t":125,"i":-0.6,"i2":-1.4},{"seg":"atp","t":126.5,"i":-0.4,"i2":-1.0},
      {"seg":"gen","t":184.5,"i":-1.0,"i2":-2.3},{"seg":"gen","t":187,"i":-1.1,"i2":-2.4},{"seg":"gen","t":190,"i":-1.2,"i2":-2.5},{"seg":"gen","t":193,"i":-1.3,"i2":-2.5},{"seg":"gen","t":196,"i":-1.3,"i2":-2.6},
      {"seg":"gen","t":199,"i":-1.2,"i2":-2.5},{"seg":"gen","t":202,"i":-1.2,"i2":-2.4},{"seg":"gen","t":205,"i":-1.1,"i2":-2.3},{"seg":"gen","t":208,"i":-1.0,"i2":-2.2},{"seg":"gen","t":211,"i":-1.0,"i2":-2.1},
      {"seg":"gen","t":214,"i":-0.9,"i2":-2.1},{"seg":"gen","t":217,"i":-1.0,"i2":-2.0},{"seg":"gen","t":220,"i":-0.9,"i2":-2.1},{"seg":"gen","t":223,"i":-1.0,"i2":-2.0},{"seg":"gen","t":226,"i":-0.9,"i2":-2.1},
      {"seg":"gen","t":229,"i":-1.0,"i2":-2.2},{"seg":"gen","t":232,"i":-1.0,"i2":-2.1},{"seg":"gen","t":235,"i":-1.1,"i2":-2.2},{"seg":"gen","t":238,"i":-1.0,"i2":-2.1},{"seg":"gen","t":241,"i":-0.9,"i2":-2.0},
      {"seg":"gen","t":244,"i":-1.0,"i2":-2.1},{"seg":"gen","t":247,"i":-0.9,"i2":-2.0},{"seg":"gen","t":250,"i":-1.0,"i2":-2.1},{"seg":"gen","t":253,"i":-1.0,"i2":-2.2},{"seg":"gen","t":256,"i":-1.1,"i2":-2.2},
      {"seg":"gen","t":259,"i":-1.0,"i2":-2.1},{"seg":"gen","t":262,"i":-1.0,"i2":-2.2},{"seg":"gen","t":265,"i":-1.0,"i2":-2.1},{"seg":"gen","t":268,"i":-1.1,"i2":-2.2},{"seg":"gen","t":271,"i":-1.2,"i2":-2.3},
      {"seg":"gen","t":274,"i":-1.2,"i2":-2.4},{"seg":"gen","t":277,"i":-1.3,"i2":-2.5},{"seg":"gen","t":280,"i":-1.4,"i2":-2.6},{"seg":"gen","t":283,"i":-1.4,"i2":-2.7},{"seg":"gen","t":286,"i":-1.5,"i2":-2.7},
      {"seg":"gen","t":289,"i":-1.4,"i2":-2.6},{"seg":"gen","t":291.5,"i":-1.0,"i2":-1.8}
    ],
    "barsA": [
      {"t":0.77,"t2":85.71,"i":0.342},
      {"t":88.52,"t2":158.42,"i":0.535},
      {"t":158.93,"t2":238.27,"i":0.342}
    ],
    "scaleAh": [{"t":31.12,"t2":56.12,"i":-1.93}],
    "scaleAv": [{"t":31.12,"i":-1.43,"i2":-1.93}],
    "labelsA": [
      {"t":1.53,"i":0.421,"label":"ATP 0.5 mM"},
      {"t":88.0,"i":0.596,"label":"Genistein 50 μM"}
    ],
    "letterA": [{"t":-0.6,"i":0.912,"label":"A"}],
    "scaleLabA": [
      {"t":27.04,"i":-1.64,"label":"0.5"},
      {"t":27.04,"i":-1.851,"label":"pA"}
    ],
    "timeLabA": [{"t":36.48,"i":-2.149,"label":"25 s"}],
    "barsB": [
      {"t":26.33,"t2":127.0,"i":0.391},
      {"t":183.33,"t2":290.0,"i":0.859},
      {"t":184.0,"t2":290.67,"i":0.406}
    ],
    "bracketB": [{"t":183.33,"i":1.39,"i2":0.0}],
    "scaleBh": [{"t":10.33,"t2":40.33,"i":-2.969}],
    "scaleBv": [{"t":10.33,"i":-2.469,"i2":-2.969}],
    "labelsB": [
      {"t":30.67,"i":0.594,"label":"ATP 0.5 mM"},
      {"t":188.0,"i":1.016,"label":"Genistein 50 μM"}
    ],
    "letterB": [{"t":-1.33,"i":0.73,"label":"B"}],
    "scaleLabB": [
      {"t":6.33,"i":-2.672,"label":"0.5"},
      {"t":6.33,"i":-3.0,"label":"pA"}
    ],
    "timeLabB": [{"t":17.67,"i":-3.42,"label":"30 s"}]
  },
  "layer": [
    {
      "encoding": {
        "x": {"field": "t", "type": "quantitative", "scale": {"domain": [-5.612, 238.27], "nice": false, "zero": false}, "axis": null},
        "y": {"field": "i", "type": "quantitative", "scale": {"domain": [-5.447, 1.193], "nice": false, "zero": false}, "axis": null}
      },
      "layer": [
        {"data": {"name": "bandA"}, "mark": {"type": "area", "color": "black", "opacity": 0.7, "interpolate": "linear"}, "encoding": {"y2": {"field": "i2"}, "detail": {"field": "seg"}}},
        {"data": {"name": "traceA"}, "mark": {"type": "line", "color": "black", "strokeWidth": 1.35, "strokeJoin": "bevel"}, "encoding": {}},
        {"data": {"name": "barsA"}, "mark": {"type": "rule", "color": "black", "strokeWidth": 3}, "encoding": {"x2": {"field": "t2"}}},
        {"data": {"name": "scaleAh"}, "mark": {"type": "rule", "color": "black", "strokeWidth": 1.5}, "encoding": {"x2": {"field": "t2"}}},
        {"data": {"name": "scaleAv"}, "mark": {"type": "rule", "color": "black", "strokeWidth": 1.5}, "encoding": {"y2": {"field": "i2"}}},
        {"data": {"name": "labelsA"}, "mark": {"type": "text", "align": "left", "baseline": "alphabetic", "fontSize": 26}, "encoding": {"text": {"field": "label"}}},
        {"data": {"name": "letterA"}, "mark": {"type": "text", "align": "left", "baseline": "alphabetic", "fontSize": 28}, "encoding": {"text": {"field": "label"}}},
        {"data": {"name": "scaleLabA"}, "mark": {"type": "text", "align": "right", "baseline": "alphabetic", "fontSize": 21.5}, "encoding": {"text": {"field": "label"}}},
        {"data": {"name": "timeLabA"}, "mark": {"type": "text", "align": "left", "baseline": "alphabetic", "fontSize": 22.5}, "encoding": {"text": {"field": "label"}}}
      ]
    },
    {
      "encoding": {
        "x": {"field": "t", "type": "quantitative", "scale": {"domain": [-7.333, 311.333], "nice": false, "zero": false}, "axis": null},
        "y": {"field": "i", "type": "quantitative", "scale": {"domain": [-4.219, 7.609], "nice": false, "zero": false}, "axis": null}
      },
      "layer": [
        {"data": {"name": "bandB"}, "mark": {"type": "area", "color": "black", "opacity": 0.45, "interpolate": "linear"}, "encoding": {"y2": {"field": "i2"}, "detail": {"field": "seg"}}},
        {"data": {"name": "traceB"}, "mark": {"type": "line", "color": "black", "strokeWidth": 1.1, "strokeJoin": "bevel"}, "encoding": {}},
        {"data": {"name": "barsB"}, "mark": {"type": "rule", "color": "black", "strokeWidth": 2.6}, "encoding": {"x2": {"field": "t2"}}},
        {"data": {"name": "bracketB"}, "mark": {"type": "rule", "color": "black", "strokeWidth": 1}, "encoding": {"y2": {"field": "i2"}}},
        {"data": {"name": "scaleBh"}, "mark": {"type": "rule", "color": "black", "strokeWidth": 1.5}, "encoding": {"x2": {"field": "t2"}}},
        {"data": {"name": "scaleBv"}, "mark": {"type": "rule", "color": "black", "strokeWidth": 1.5}, "encoding": {"y2": {"field": "i2"}}},
        {"data": {"name": "labelsB"}, "mark": {"type": "text", "align": "left", "baseline": "alphabetic", "fontSize": 26}, "encoding": {"text": {"field": "label"}}},
        {"data": {"name": "letterB"}, "mark": {"type": "text", "align": "left", "baseline": "alphabetic", "fontSize": 28}, "encoding": {"text": {"field": "label"}}},
        {"data": {"name": "scaleLabB"}, "mark": {"type": "text", "align": "right", "baseline": "alphabetic", "fontSize": 18.5}, "encoding": {"text": {"field": "label"}}},
        {"data": {"name": "timeLabB"}, "mark": {"type": "text", "align": "left", "baseline": "alphabetic", "fontSize": 21}, "encoding": {"text": {"field": "label"}}}
      ]
    }
  ],
  "resolve": {"scale": {"x": "independent", "y": "independent"}}
}
